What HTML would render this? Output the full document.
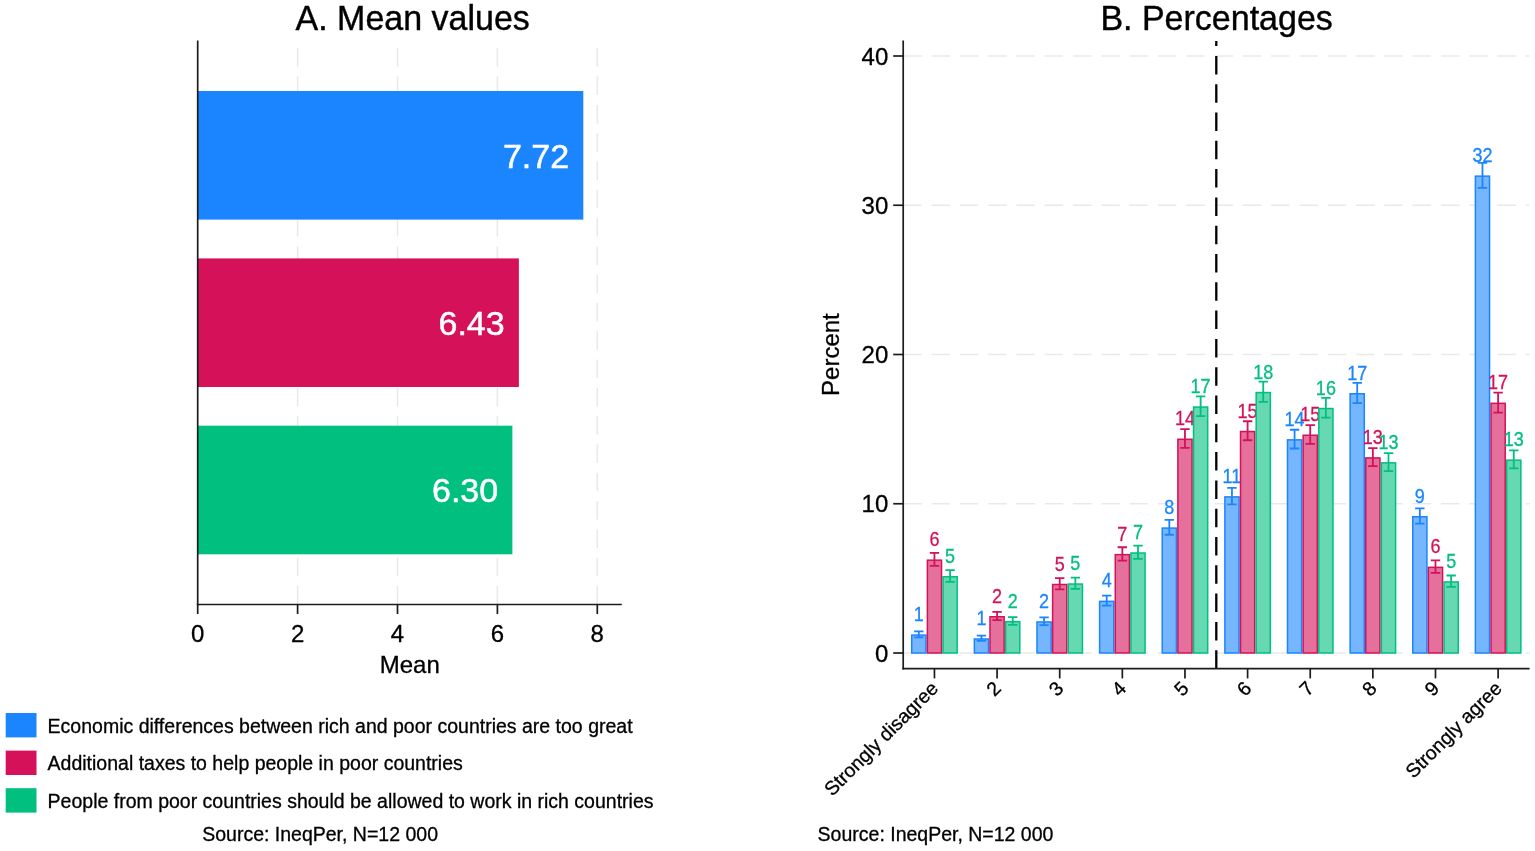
<!DOCTYPE html>
<html lang="en"><head><meta charset="utf-8"><title>Figure</title>
<style>html,body{margin:0;padding:0;background:#fff;}body{width:1535px;height:851px;overflow:hidden;}svg{display:block;}</style>
</head><body>
<svg width="1535" height="851" viewBox="0 0 1535 851" font-family='"Liberation Sans", Arial, Helvetica, sans-serif'>
<rect width="1535" height="851" fill="#fff"/>
<g id="left">
<line x1="297.60" y1="604.5" x2="297.60" y2="40.5" stroke="#e9e9e9" stroke-width="1.5" stroke-dasharray="18.5 9.8"/>
<line x1="397.50" y1="604.5" x2="397.50" y2="40.5" stroke="#e9e9e9" stroke-width="1.5" stroke-dasharray="18.5 9.8"/>
<line x1="497.40" y1="604.5" x2="497.40" y2="40.5" stroke="#e9e9e9" stroke-width="1.5" stroke-dasharray="18.5 9.8"/>
<line x1="597.30" y1="604.5" x2="597.30" y2="40.5" stroke="#e9e9e9" stroke-width="1.5" stroke-dasharray="18.5 9.8"/>
<rect x="197.7" y="91.0" width="385.61" height="128.6" fill="#1a85ff"/>
<text x="569.11" y="167.50" font-size="34" fill="#fff" stroke="#fff" stroke-width="0.5" text-anchor="end">7.72</text>
<rect x="197.7" y="258.4" width="321.18" height="128.6" fill="#d41159"/>
<text x="504.68" y="334.90" font-size="34" fill="#fff" stroke="#fff" stroke-width="0.5" text-anchor="end">6.43</text>
<rect x="197.7" y="425.7" width="314.69" height="128.6" fill="#00bf7f"/>
<text x="498.19" y="502.20" font-size="34" fill="#fff" stroke="#fff" stroke-width="0.5" text-anchor="end">6.30</text>
<line x1="197.7" y1="40.5" x2="197.7" y2="605.35" stroke="#1c1c1c" stroke-width="1.7"/>
<line x1="196.85" y1="604.5" x2="621.8" y2="604.5" stroke="#1c1c1c" stroke-width="1.7"/>
<line x1="197.70" y1="604.5" x2="197.70" y2="614" stroke="#1c1c1c" stroke-width="1.7"/>
<text x="197.70" y="642.0" font-size="24" fill="#000" stroke="#000" stroke-width="0.3" text-anchor="middle">0</text>
<line x1="297.60" y1="604.5" x2="297.60" y2="614" stroke="#1c1c1c" stroke-width="1.7"/>
<text x="297.60" y="642.0" font-size="24" fill="#000" stroke="#000" stroke-width="0.3" text-anchor="middle">2</text>
<line x1="397.50" y1="604.5" x2="397.50" y2="614" stroke="#1c1c1c" stroke-width="1.7"/>
<text x="397.50" y="642.0" font-size="24" fill="#000" stroke="#000" stroke-width="0.3" text-anchor="middle">4</text>
<line x1="497.40" y1="604.5" x2="497.40" y2="614" stroke="#1c1c1c" stroke-width="1.7"/>
<text x="497.40" y="642.0" font-size="24" fill="#000" stroke="#000" stroke-width="0.3" text-anchor="middle">6</text>
<line x1="597.30" y1="604.5" x2="597.30" y2="614" stroke="#1c1c1c" stroke-width="1.7"/>
<text x="597.30" y="642.0" font-size="24" fill="#000" stroke="#000" stroke-width="0.3" text-anchor="middle">8</text>
<text x="409.75" y="673.4" font-size="24" fill="#000" stroke="#000" stroke-width="0.3" text-anchor="middle">Mean</text>
<text transform="translate(412.7 30.0) scale(0.958 1)" font-size="35.5" fill="#000" stroke="#000" stroke-width="0.4" text-anchor="middle">A. Mean values</text>
</g>
<g id="legend">
<rect x="5.7" y="713.0" width="30.8" height="24.4" fill="#1a85ff"/>
<text x="47.6" y="732.60" font-size="19.5" fill="#000" stroke="#000" stroke-width="0.3">Economic differences between rich and poor countries are too great</text>
<rect x="5.7" y="750.6" width="30.8" height="24.4" fill="#d41159"/>
<text x="47.6" y="770.20" font-size="19.5" fill="#000" stroke="#000" stroke-width="0.3">Additional taxes to help people in poor countries</text>
<rect x="5.7" y="788.2" width="30.8" height="24.4" fill="#00bf7f"/>
<text x="47.6" y="807.80" font-size="19.5" fill="#000" stroke="#000" stroke-width="0.3">People from poor countries should be allowed to work in rich countries</text>
<text x="202.2" y="840.8" font-size="19.5" fill="#000" stroke="#000" stroke-width="0.3">Source: IneqPer, N=12 000</text>
<text x="817.6" y="840.8" font-size="19.5" fill="#000" stroke="#000" stroke-width="0.3">Source: IneqPer, N=12 000</text>
</g>
<g id="right">
<line x1="903.2" y1="653.00" x2="1529.6" y2="653.00" stroke="#e9e9e9" stroke-width="1.5" stroke-dasharray="18.5 9.8"/>
<line x1="903.2" y1="503.75" x2="1529.6" y2="503.75" stroke="#e9e9e9" stroke-width="1.5" stroke-dasharray="18.5 9.8"/>
<line x1="903.2" y1="354.50" x2="1529.6" y2="354.50" stroke="#e9e9e9" stroke-width="1.5" stroke-dasharray="18.5 9.8"/>
<line x1="903.2" y1="205.25" x2="1529.6" y2="205.25" stroke="#e9e9e9" stroke-width="1.5" stroke-dasharray="18.5 9.8"/>
<line x1="903.2" y1="56.00" x2="1529.6" y2="56.00" stroke="#e9e9e9" stroke-width="1.5" stroke-dasharray="18.5 9.8"/>
<rect x="911.73" y="635.09" width="14.15" height="17.91" fill="#76b6ff" stroke="#1a85ff" stroke-width="1.5"/>
<rect x="974.36" y="638.97" width="14.15" height="14.03" fill="#76b6ff" stroke="#1a85ff" stroke-width="1.5"/>
<rect x="1036.98" y="621.96" width="14.15" height="31.04" fill="#76b6ff" stroke="#1a85ff" stroke-width="1.5"/>
<rect x="1099.62" y="601.36" width="14.15" height="51.64" fill="#76b6ff" stroke="#1a85ff" stroke-width="1.5"/>
<rect x="1162.24" y="528.08" width="14.15" height="124.92" fill="#76b6ff" stroke="#1a85ff" stroke-width="1.5"/>
<rect x="1224.88" y="496.89" width="14.15" height="156.11" fill="#76b6ff" stroke="#1a85ff" stroke-width="1.5"/>
<rect x="1287.50" y="439.87" width="14.15" height="213.13" fill="#76b6ff" stroke="#1a85ff" stroke-width="1.5"/>
<rect x="1350.13" y="393.76" width="14.15" height="259.24" fill="#76b6ff" stroke="#1a85ff" stroke-width="1.5"/>
<rect x="1412.76" y="516.74" width="14.15" height="136.26" fill="#76b6ff" stroke="#1a85ff" stroke-width="1.5"/>
<rect x="1475.39" y="176.15" width="14.15" height="476.85" fill="#76b6ff" stroke="#1a85ff" stroke-width="1.5"/>
<path d="M918.80 631.38V637.31M914.10 631.38H923.50M914.10 637.31H923.50" stroke="#1a85ff" stroke-width="1.8" fill="none"/>
<path d="M981.43 635.58V640.87M976.73 635.58H986.13M976.73 640.87H986.13" stroke="#1a85ff" stroke-width="1.8" fill="none"/>
<path d="M1044.06 617.35V625.07M1039.36 617.35H1048.76M1039.36 625.07H1048.76" stroke="#1a85ff" stroke-width="1.8" fill="none"/>
<path d="M1106.69 595.70V605.53M1101.99 595.70H1111.39M1101.99 605.53H1111.39" stroke="#1a85ff" stroke-width="1.8" fill="none"/>
<path d="M1169.32 519.92V534.75M1164.62 519.92H1174.02M1164.62 534.75H1174.02" stroke="#1a85ff" stroke-width="1.8" fill="none"/>
<path d="M1231.95 487.95V504.33M1227.25 487.95H1236.65M1227.25 504.33H1236.65" stroke="#1a85ff" stroke-width="1.8" fill="none"/>
<path d="M1294.58 429.77V448.48M1289.88 429.77H1299.28M1289.88 448.48H1299.28" stroke="#1a85ff" stroke-width="1.8" fill="none"/>
<path d="M1357.21 382.88V403.13M1352.51 382.88H1361.91M1352.51 403.13H1361.91" stroke="#1a85ff" stroke-width="1.8" fill="none"/>
<path d="M1419.84 508.28V523.70M1415.14 508.28H1424.54M1415.14 523.70H1424.54" stroke="#1a85ff" stroke-width="1.8" fill="none"/>
<path d="M1482.47 162.94V187.86M1477.77 162.94H1487.17M1477.77 187.86H1487.17" stroke="#1a85ff" stroke-width="1.8" fill="none"/>
<text transform="translate(918.80 621.14) scale(0.9 1)" font-size="20" fill="#1a85ff" stroke="#1a85ff" stroke-width="0.3" text-anchor="middle">1</text>
<text transform="translate(981.43 625.02) scale(0.9 1)" font-size="20" fill="#1a85ff" stroke="#1a85ff" stroke-width="0.3" text-anchor="middle">1</text>
<text transform="translate(1044.06 608.01) scale(0.9 1)" font-size="20" fill="#1a85ff" stroke="#1a85ff" stroke-width="0.3" text-anchor="middle">2</text>
<text transform="translate(1106.69 587.41) scale(0.9 1)" font-size="20" fill="#1a85ff" stroke="#1a85ff" stroke-width="0.3" text-anchor="middle">4</text>
<text transform="translate(1169.32 514.13) scale(0.9 1)" font-size="20" fill="#1a85ff" stroke="#1a85ff" stroke-width="0.3" text-anchor="middle">8</text>
<text transform="translate(1231.95 482.94) scale(0.9 1)" font-size="20" fill="#1a85ff" stroke="#1a85ff" stroke-width="0.3" text-anchor="middle">11</text>
<text transform="translate(1294.58 425.92) scale(0.9 1)" font-size="20" fill="#1a85ff" stroke="#1a85ff" stroke-width="0.3" text-anchor="middle">14</text>
<text transform="translate(1357.21 379.81) scale(0.9 1)" font-size="20" fill="#1a85ff" stroke="#1a85ff" stroke-width="0.3" text-anchor="middle">17</text>
<text transform="translate(1419.84 502.79) scale(0.9 1)" font-size="20" fill="#1a85ff" stroke="#1a85ff" stroke-width="0.3" text-anchor="middle">9</text>
<text transform="translate(1482.47 162.20) scale(0.9 1)" font-size="20" fill="#1a85ff" stroke="#1a85ff" stroke-width="0.3" text-anchor="middle">32</text>
<rect x="927.38" y="560.17" width="14.15" height="92.83" fill="#e5709b" stroke="#d41159" stroke-width="1.5"/>
<rect x="990.00" y="616.74" width="14.15" height="36.26" fill="#e5709b" stroke="#d41159" stroke-width="1.5"/>
<rect x="1052.63" y="584.50" width="14.15" height="68.50" fill="#e5709b" stroke="#d41159" stroke-width="1.5"/>
<rect x="1115.27" y="554.65" width="14.15" height="98.35" fill="#e5709b" stroke="#d41159" stroke-width="1.5"/>
<rect x="1177.89" y="439.28" width="14.15" height="213.72" fill="#e5709b" stroke="#d41159" stroke-width="1.5"/>
<rect x="1240.53" y="431.52" width="14.15" height="221.48" fill="#e5709b" stroke="#d41159" stroke-width="1.5"/>
<rect x="1303.15" y="435.25" width="14.15" height="217.75" fill="#e5709b" stroke="#d41159" stroke-width="1.5"/>
<rect x="1365.79" y="457.93" width="14.15" height="195.07" fill="#e5709b" stroke="#d41159" stroke-width="1.5"/>
<rect x="1428.41" y="567.33" width="14.15" height="85.67" fill="#e5709b" stroke="#d41159" stroke-width="1.5"/>
<rect x="1491.05" y="403.31" width="14.15" height="249.69" fill="#e5709b" stroke="#d41159" stroke-width="1.5"/>
<path d="M934.45 552.95V565.89M929.75 552.95H939.15M929.75 565.89H939.15" stroke="#d41159" stroke-width="1.8" fill="none"/>
<path d="M997.08 611.83V620.14M992.38 611.83H1001.78M992.38 620.14H1001.78" stroke="#d41159" stroke-width="1.8" fill="none"/>
<path d="M1059.71 578.13V589.37M1055.01 578.13H1064.41M1055.01 589.37H1064.41" stroke="#d41159" stroke-width="1.8" fill="none"/>
<path d="M1122.34 547.25V560.55M1117.64 547.25H1127.04M1117.64 560.55H1127.04" stroke="#d41159" stroke-width="1.8" fill="none"/>
<path d="M1184.97 429.16V447.90M1180.27 429.16H1189.67M1180.27 447.90H1189.67" stroke="#d41159" stroke-width="1.8" fill="none"/>
<path d="M1247.60 421.26V440.27M1242.90 421.26H1252.30M1242.90 440.27H1252.30" stroke="#d41159" stroke-width="1.8" fill="none"/>
<path d="M1310.23 425.06V443.94M1305.53 425.06H1314.93M1305.53 443.94H1314.93" stroke="#d41159" stroke-width="1.8" fill="none"/>
<path d="M1372.86 448.17V466.20M1368.16 448.17H1377.56M1368.16 466.20H1377.56" stroke="#d41159" stroke-width="1.8" fill="none"/>
<path d="M1435.49 560.35V572.82M1430.79 560.35H1440.19M1430.79 572.82H1440.19" stroke="#d41159" stroke-width="1.8" fill="none"/>
<path d="M1498.12 392.58V412.54M1493.42 392.58H1502.82M1493.42 412.54H1502.82" stroke="#d41159" stroke-width="1.8" fill="none"/>
<text transform="translate(934.45 546.22) scale(0.9 1)" font-size="20" fill="#d41159" stroke="#d41159" stroke-width="0.3" text-anchor="middle">6</text>
<text transform="translate(997.08 602.79) scale(0.9 1)" font-size="20" fill="#d41159" stroke="#d41159" stroke-width="0.3" text-anchor="middle">2</text>
<text transform="translate(1059.71 570.55) scale(0.9 1)" font-size="20" fill="#d41159" stroke="#d41159" stroke-width="0.3" text-anchor="middle">5</text>
<text transform="translate(1122.34 540.70) scale(0.9 1)" font-size="20" fill="#d41159" stroke="#d41159" stroke-width="0.3" text-anchor="middle">7</text>
<text transform="translate(1184.97 425.33) scale(0.9 1)" font-size="20" fill="#d41159" stroke="#d41159" stroke-width="0.3" text-anchor="middle">14</text>
<text transform="translate(1247.60 417.57) scale(0.9 1)" font-size="20" fill="#d41159" stroke="#d41159" stroke-width="0.3" text-anchor="middle">15</text>
<text transform="translate(1310.23 421.30) scale(0.9 1)" font-size="20" fill="#d41159" stroke="#d41159" stroke-width="0.3" text-anchor="middle">15</text>
<text transform="translate(1372.86 443.98) scale(0.9 1)" font-size="20" fill="#d41159" stroke="#d41159" stroke-width="0.3" text-anchor="middle">13</text>
<text transform="translate(1435.49 553.38) scale(0.9 1)" font-size="20" fill="#d41159" stroke="#d41159" stroke-width="0.3" text-anchor="middle">6</text>
<text transform="translate(1498.12 389.36) scale(0.9 1)" font-size="20" fill="#d41159" stroke="#d41159" stroke-width="0.3" text-anchor="middle">17</text>
<rect x="943.02" y="576.74" width="14.15" height="76.26" fill="#66d9b2" stroke="#00bf7f" stroke-width="1.5"/>
<rect x="1005.65" y="621.66" width="14.15" height="31.34" fill="#66d9b2" stroke="#00bf7f" stroke-width="1.5"/>
<rect x="1068.29" y="584.05" width="14.15" height="68.95" fill="#66d9b2" stroke="#00bf7f" stroke-width="1.5"/>
<rect x="1130.92" y="553.01" width="14.15" height="99.99" fill="#66d9b2" stroke="#00bf7f" stroke-width="1.5"/>
<rect x="1193.55" y="407.04" width="14.15" height="245.96" fill="#66d9b2" stroke="#00bf7f" stroke-width="1.5"/>
<rect x="1256.18" y="392.56" width="14.15" height="260.44" fill="#66d9b2" stroke="#00bf7f" stroke-width="1.5"/>
<rect x="1318.81" y="408.53" width="14.15" height="244.47" fill="#66d9b2" stroke="#00bf7f" stroke-width="1.5"/>
<rect x="1381.44" y="462.86" width="14.15" height="190.14" fill="#66d9b2" stroke="#00bf7f" stroke-width="1.5"/>
<rect x="1444.07" y="581.96" width="14.15" height="71.04" fill="#66d9b2" stroke="#00bf7f" stroke-width="1.5"/>
<rect x="1506.70" y="460.17" width="14.15" height="192.83" fill="#66d9b2" stroke="#00bf7f" stroke-width="1.5"/>
<path d="M950.10 570.08V581.89M945.40 570.08H954.80M945.40 581.89H954.80" stroke="#00bf7f" stroke-width="1.8" fill="none"/>
<path d="M1012.73 617.04V624.78M1008.03 617.04H1017.43M1008.03 624.78H1017.43" stroke="#00bf7f" stroke-width="1.8" fill="none"/>
<path d="M1075.36 577.67V588.93M1070.66 577.67H1080.06M1070.66 588.93H1080.06" stroke="#00bf7f" stroke-width="1.8" fill="none"/>
<path d="M1137.99 545.56V558.96M1133.29 545.56H1142.69M1133.29 558.96H1142.69" stroke="#00bf7f" stroke-width="1.8" fill="none"/>
<path d="M1200.62 396.37V416.21M1195.92 396.37H1205.32M1195.92 416.21H1205.32" stroke="#00bf7f" stroke-width="1.8" fill="none"/>
<path d="M1263.25 381.67V401.96M1258.55 381.67H1267.95M1258.55 401.96H1267.95" stroke="#00bf7f" stroke-width="1.8" fill="none"/>
<path d="M1325.88 397.89V417.68M1321.18 397.89H1330.58M1321.18 417.68H1330.58" stroke="#00bf7f" stroke-width="1.8" fill="none"/>
<path d="M1388.51 453.19V471.03M1383.81 453.19H1393.21M1383.81 471.03H1393.21" stroke="#00bf7f" stroke-width="1.8" fill="none"/>
<path d="M1451.14 575.50V586.92M1446.44 575.50H1455.84M1446.44 586.92H1455.84" stroke="#00bf7f" stroke-width="1.8" fill="none"/>
<path d="M1513.77 450.45V468.39M1509.07 450.45H1518.47M1509.07 468.39H1518.47" stroke="#00bf7f" stroke-width="1.8" fill="none"/>
<text transform="translate(950.10 562.79) scale(0.9 1)" font-size="20" fill="#00bf7f" stroke="#00bf7f" stroke-width="0.3" text-anchor="middle">5</text>
<text transform="translate(1012.73 607.71) scale(0.9 1)" font-size="20" fill="#00bf7f" stroke="#00bf7f" stroke-width="0.3" text-anchor="middle">2</text>
<text transform="translate(1075.36 570.10) scale(0.9 1)" font-size="20" fill="#00bf7f" stroke="#00bf7f" stroke-width="0.3" text-anchor="middle">5</text>
<text transform="translate(1137.99 539.06) scale(0.9 1)" font-size="20" fill="#00bf7f" stroke="#00bf7f" stroke-width="0.3" text-anchor="middle">7</text>
<text transform="translate(1200.62 393.09) scale(0.9 1)" font-size="20" fill="#00bf7f" stroke="#00bf7f" stroke-width="0.3" text-anchor="middle">17</text>
<text transform="translate(1263.25 378.61) scale(0.9 1)" font-size="20" fill="#00bf7f" stroke="#00bf7f" stroke-width="0.3" text-anchor="middle">18</text>
<text transform="translate(1325.88 394.58) scale(0.9 1)" font-size="20" fill="#00bf7f" stroke="#00bf7f" stroke-width="0.3" text-anchor="middle">16</text>
<text transform="translate(1388.51 448.91) scale(0.9 1)" font-size="20" fill="#00bf7f" stroke="#00bf7f" stroke-width="0.3" text-anchor="middle">13</text>
<text transform="translate(1451.14 568.01) scale(0.9 1)" font-size="20" fill="#00bf7f" stroke="#00bf7f" stroke-width="0.3" text-anchor="middle">5</text>
<text transform="translate(1513.77 446.22) scale(0.9 1)" font-size="20" fill="#00bf7f" stroke="#00bf7f" stroke-width="0.3" text-anchor="middle">13</text>
<line x1="1216.3" y1="668.7" x2="1216.3" y2="40.9" stroke="#000" stroke-width="2.3" stroke-dasharray="18.5 9.8"/>
<line x1="903.2" y1="40.6" x2="903.2" y2="669.5500000000001" stroke="#1c1c1c" stroke-width="1.7"/>
<line x1="902.35" y1="668.7" x2="1529.6" y2="668.7" stroke="#1c1c1c" stroke-width="1.7"/>
<line x1="893.2" y1="653.00" x2="903.2" y2="653.00" stroke="#1c1c1c" stroke-width="1.7"/>
<text x="888.3" y="661.60" font-size="24" fill="#000" stroke="#000" stroke-width="0.3" text-anchor="end">0</text>
<line x1="893.2" y1="503.75" x2="903.2" y2="503.75" stroke="#1c1c1c" stroke-width="1.7"/>
<text x="888.3" y="512.35" font-size="24" fill="#000" stroke="#000" stroke-width="0.3" text-anchor="end">10</text>
<line x1="893.2" y1="354.50" x2="903.2" y2="354.50" stroke="#1c1c1c" stroke-width="1.7"/>
<text x="888.3" y="363.10" font-size="24" fill="#000" stroke="#000" stroke-width="0.3" text-anchor="end">20</text>
<line x1="893.2" y1="205.25" x2="903.2" y2="205.25" stroke="#1c1c1c" stroke-width="1.7"/>
<text x="888.3" y="213.85" font-size="24" fill="#000" stroke="#000" stroke-width="0.3" text-anchor="end">30</text>
<line x1="893.2" y1="56.00" x2="903.2" y2="56.00" stroke="#1c1c1c" stroke-width="1.7"/>
<text x="888.3" y="64.60" font-size="24" fill="#000" stroke="#000" stroke-width="0.3" text-anchor="end">40</text>
<line x1="934.45" y1="668.7" x2="934.45" y2="678.4" stroke="#1c1c1c" stroke-width="1.7"/>
<text transform="translate(939.45 689.6) rotate(-45)" font-size="19.5" fill="#000" stroke="#000" stroke-width="0.3" text-anchor="end">Strongly disagree</text>
<line x1="997.08" y1="668.7" x2="997.08" y2="678.4" stroke="#1c1c1c" stroke-width="1.7"/>
<text transform="translate(1002.08 689.6) rotate(-45)" font-size="19.5" fill="#000" stroke="#000" stroke-width="0.3" text-anchor="end">2</text>
<line x1="1059.71" y1="668.7" x2="1059.71" y2="678.4" stroke="#1c1c1c" stroke-width="1.7"/>
<text transform="translate(1064.71 689.6) rotate(-45)" font-size="19.5" fill="#000" stroke="#000" stroke-width="0.3" text-anchor="end">3</text>
<line x1="1122.34" y1="668.7" x2="1122.34" y2="678.4" stroke="#1c1c1c" stroke-width="1.7"/>
<text transform="translate(1127.34 689.6) rotate(-45)" font-size="19.5" fill="#000" stroke="#000" stroke-width="0.3" text-anchor="end">4</text>
<line x1="1184.97" y1="668.7" x2="1184.97" y2="678.4" stroke="#1c1c1c" stroke-width="1.7"/>
<text transform="translate(1189.97 689.6) rotate(-45)" font-size="19.5" fill="#000" stroke="#000" stroke-width="0.3" text-anchor="end">5</text>
<line x1="1247.60" y1="668.7" x2="1247.60" y2="678.4" stroke="#1c1c1c" stroke-width="1.7"/>
<text transform="translate(1252.60 689.6) rotate(-45)" font-size="19.5" fill="#000" stroke="#000" stroke-width="0.3" text-anchor="end">6</text>
<line x1="1310.23" y1="668.7" x2="1310.23" y2="678.4" stroke="#1c1c1c" stroke-width="1.7"/>
<text transform="translate(1315.23 689.6) rotate(-45)" font-size="19.5" fill="#000" stroke="#000" stroke-width="0.3" text-anchor="end">7</text>
<line x1="1372.86" y1="668.7" x2="1372.86" y2="678.4" stroke="#1c1c1c" stroke-width="1.7"/>
<text transform="translate(1377.86 689.6) rotate(-45)" font-size="19.5" fill="#000" stroke="#000" stroke-width="0.3" text-anchor="end">8</text>
<line x1="1435.49" y1="668.7" x2="1435.49" y2="678.4" stroke="#1c1c1c" stroke-width="1.7"/>
<text transform="translate(1440.49 689.6) rotate(-45)" font-size="19.5" fill="#000" stroke="#000" stroke-width="0.3" text-anchor="end">9</text>
<line x1="1498.12" y1="668.7" x2="1498.12" y2="678.4" stroke="#1c1c1c" stroke-width="1.7"/>
<text transform="translate(1503.12 689.6) rotate(-45)" font-size="19.5" fill="#000" stroke="#000" stroke-width="0.3" text-anchor="end">Strongly agree</text>
<text transform="translate(838.9 354.6) rotate(-90)" font-size="24" fill="#000" stroke="#000" stroke-width="0.3" text-anchor="middle">Percent</text>
<text transform="translate(1216.6 30.0) scale(0.958 1)" font-size="35.5" fill="#000" stroke="#000" stroke-width="0.4" text-anchor="middle">B. Percentages</text>
</g>
</svg>
</body></html>
